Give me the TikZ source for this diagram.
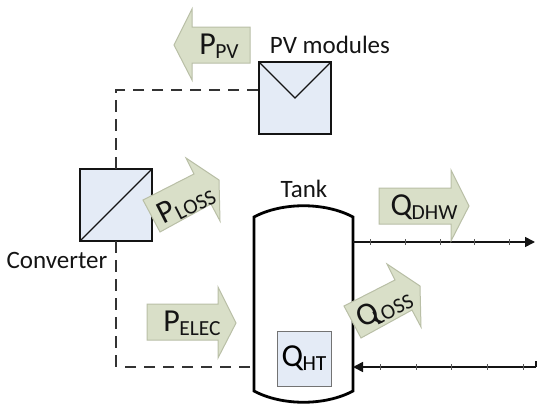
\documentclass[tikz,border=0pt]{standalone}
\usepackage{fontspec}
\setmainfont{Carlito}
\usetikzlibrary{arrows.meta}
\newcommand{\qty}[2]{{\fontsize{32}{32}\selectfont #1}\kern-0.5pt{\fontsize{21.5}{21.5}\selectfont\raisebox{-4pt}{#2}}}
\definecolor{arrowfill}{HTML}{D9DFC8}
\definecolor{arrowedge}{HTML}{B9BFA6}
\definecolor{boxfill}{HTML}{E4EBF6}
\definecolor{ink}{HTML}{141414}
\tikzset{
  flow/.style={fill=arrowfill,draw=arrowedge,line width=1pt,line join=miter},
  devicebox/.style={draw=ink,fill=boxfill,line width=2.6pt,minimum size=72pt,inner sep=0pt,outer sep=0pt},
  heaterbox/.style={draw=black!55,fill=boxfill,line width=1pt,minimum width=54pt,minimum height=55pt,inner sep=0pt,outer sep=0pt},
  thinline/.style={draw=ink,line width=1.3pt},
  wire/.style={draw=black!80,line width=1.8pt,dash pattern=on 11.5pt off 7.5pt},
  pipe/.style={draw=ink,line width=1.6pt,-{Triangle[length=10pt,width=10pt]}},
  tick/.style={draw=ink!70,line width=1pt},
  label/.style={inner sep=0pt,text=ink,font=\fontsize{25}{25}\selectfont},
  tag/.style={inner sep=0pt,text=ink}
}
\begin{document}
\begin{tikzpicture}[x=1pt,y=-1pt]
\useasboundingbox (0,0) rectangle (550,415);
% PV arrow
\draw[flow] (250,27) -- (192,27) -- (192,9) -- (174,45) -- (192,80) -- (192,63) -- (250,63) -- cycle;
\node[tag] (ppv) at (219,46) {\qty{P}{PV}};
% Boxes
\node[devicebox] (pv) at (295,98) {};
\node[devicebox] (conv) at (116,205) {};
\draw[thinline] (pv.north west) -- (pv.center) -- (pv.north east);
\draw[thinline] (conv.south west) -- (conv.north east);
% Wiring
\coordinate (pvport) at (258,90);
\coordinate (topcorner) at (116,90);
\coordinate (botcorner) at (116,367);
\coordinate (botstart) at (122,367);
\coordinate (tankport) at (250,367);
\draw[wire] (pvport) -- (topcorner) -- (conv.north);
\draw[wire] (conv.south) -- (botcorner);
\draw[wire] (tankport) -- (botstart);
% Tank
\path[draw=black,line width=2.8pt,fill=white]
  (254,217) .. controls (282,202) and (325,202) .. (353,217)
  -- (353,391) .. controls (325,406) and (282,406) .. (254,391) -- cycle;
\node[heaterbox] (heater) at (304,358.5) {\qty{Q}{HT}};
% Pipes
\coordinate (outstart) at (353,242);
\coordinate (outend) at (535,242);
\coordinate (instart) at (536,367);
\coordinate (inend) at (353,367);
\coordinate (inknob) at (536,361);
\draw[pipe] (outstart) -- (outend);
\draw[thinline,line width=1.5pt] (inknob) -- (instart);
\draw[pipe] (instart) -- (inend);
\foreach \x in {370,405,440,474,509} \draw[tick] (\x,239) -- (\x,245);
\foreach \x in {380,416,451,487,523} \draw[tick] (\x,364) -- (\x,370);
% Flow arrows
\draw[flow] (379,188) -- (451,188) -- (451,170) -- (469,206) -- (451,241) -- (451,224) -- (379,224) -- cycle;
\node[tag] (qdhw) at (424,207) {\qty{Q}{DHW}};
\draw[flow] (147,304) -- (218,304) -- (218,287) -- (236,323) -- (218,358) -- (218,340) -- (147,340) -- cycle;
\node[tag] (pelec) at (192,323) {\qty{P}{ELEC}};
\draw[flow] (143,200) -- (194,174) -- (186,158) -- (219,180) -- (220,221) -- (211,204) -- (160,232) -- cycle;
\node[tag,rotate=27] (ploss) at (186,204) {\qty{P}{LOSS}};
\draw[flow] (344,306) -- (395,280) -- (387,264) -- (420,286) -- (421,327) -- (412,310) -- (361,338) -- cycle;
\node[tag,rotate=27] (qloss) at (384,308) {\qty{Q}{\kern-6pt LOSS}};
% Labels
\node[label] (pvlabel) at (330,45) {PV modules};
\node[label] (tanklabel) at (304,189) {Tank};
\node[label] (convlabel) at (57,260) {Converter};
\end{tikzpicture}
\end{document}
